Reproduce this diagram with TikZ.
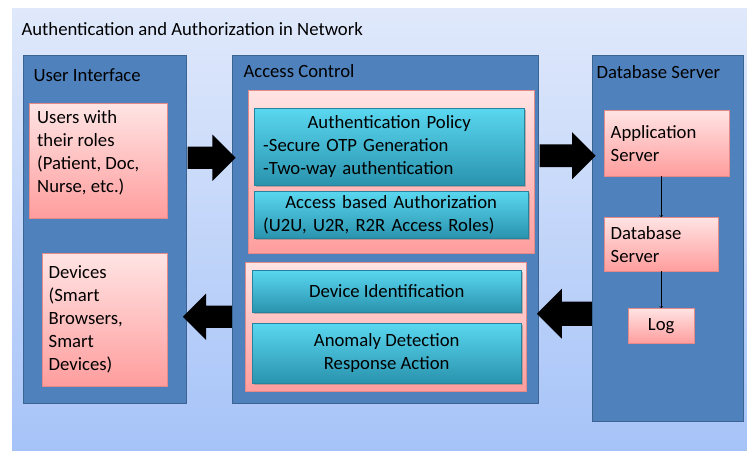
\documentclass[tikz,border=0pt]{standalone}
\usepackage{fontspec}
\setmainfont{Carlito}
\usetikzlibrary{shapes.arrows,shadows}

\definecolor{bgtop}{HTML}{E0E9FB}
\definecolor{bgbot}{HTML}{A6C3F8}
\definecolor{panelfill}{HTML}{4F81BD}
\definecolor{panelline}{HTML}{3B6393}
\definecolor{pinktop}{HTML}{FFE4E4}
\definecolor{pinkbot}{HTML}{FF9D9D}
\definecolor{pinkline}{HTML}{E58A86}
\definecolor{tealtop}{HTML}{5AD7F0}
\definecolor{tealmid}{HTML}{3CBDDD}
\definecolor{tealbot}{HTML}{2A93AE}
\definecolor{tealline}{HTML}{2683A0}

\tikzset{
	panel/.style={draw=panelline,line width=1.4pt,fill=panelfill,anchor=north west,inner sep=0},
	pinkbox/.style={draw=pinkline,top color=pinktop,bottom color=pinkbot,anchor=north west,inner sep=0,
		drop shadow={shadow xshift=1pt,shadow yshift=-1pt,opacity=0.35}},
	tealbox/.style={draw=tealline,top color=tealtop,middle color=tealmid,bottom color=tealbot,anchor=north west,inner sep=0,
		drop shadow={shadow xshift=1.5pt,shadow yshift=-1.5pt,opacity=0.5}},
	txt/.style={font=\fontsize{18.7}{23}\selectfont},
	bigarrow/.style={single arrow,fill=black,anchor=tail,inner xsep=0,inner ysep=11pt,text width=0pt,
		single arrow head extend=12pt,single arrow head indent=0pt},
}

\begin{document}
\begin{tikzpicture}[x=1pt,y=-1pt]
	\useasboundingbox (0,0) rectangle (747,450);
	\shade [top color=bgtop,bottom color=bgbot] (12,8) rectangle (747,450);
	\node [txt,anchor=west] (title) at (18,29) {Authentication and Authorization in Network};

	% three columns
	\node [panel,minimum width=163pt,minimum height=348pt] (ui) at (23,55) {};
	\node [panel,minimum width=306pt,minimum height=348pt] (ac) at (232,55) {};
	\node [panel,minimum width=151pt,minimum height=366pt] (dbs) at (592,55) {};
	\node [txt,anchor=west] (uititle) at (30,75) {User Interface};
	\node [txt,anchor=west] (actitle) at (240,71) {Access Control};
	\node [txt,anchor=west] (dbtitle) at (593,72) {Database Server};

	% user interface
	\node [pinkbox,minimum width=138pt,minimum height=115pt] (users) at (29,103) {};
	\node [txt,anchor=north west,align=left,inner sep=0] (userstext) at ([xshift=8pt,yshift=-7pt]users.north west)
		{Users with\\their roles\\(Patient, Doc,\\Nurse, etc.)};
	\node [pinkbox,txt,minimum width=125pt,minimum height=133pt,text width=112pt,align=left] (devices) at (42,253)
		{Devices\\(Smart\\Browsers,\\Smart\\Devices)};

	% access control
	\node [pinkbox,minimum width=286pt,minimum height=163pt] (authgroup) at (248,90) {};
	\node [pinkbox,minimum width=281pt,minimum height=129pt] (devgroup) at (245,262) {};
	\node [tealbox,txt,minimum width=270pt,minimum height=77pt,text width=252pt,align=left] (policy) at (254,108)
		{\makebox[\linewidth][c]{Authentication Policy}\\-Secure OTP Generation\\-Two-way authentication};
	\node [tealbox,txt,minimum width=274pt,minimum height=47pt,text width=256pt,align=left] (authz) at (254,191)
		{\makebox[\linewidth][c]{Access based Authorization}\\(U2U, U2R, R2R Access Roles)};
	\node [tealbox,txt,minimum width=269pt,minimum height=42pt,align=center] (devid) at (252,270) {Device Identification};
	\node [tealbox,txt,minimum width=269pt,minimum height=60pt,align=center] (anomaly) at (252,323)
		{Anomaly Detection\\Response Action};

	% database server
	\node [pinkbox,txt,minimum width=125pt,minimum height=66pt,text width=112pt,align=left] (app) at (604,110)
		{Application\\Server};
	\node [pinkbox,txt,minimum width=114pt,minimum height=54pt,text width=101pt,align=left] (db) at (604,217)
		{Database\\Server};
	\node [pinkbox,txt,minimum width=66pt,minimum height=35pt] (log) at (628,308) {Log};
	\draw [->] (app.south -| db.north) to (db.north);
	\draw [->] (db.south) to (log.north -| db.south);

	% flow between columns
	\node [bigarrow,minimum height=48pt,minimum width=44pt] (uitoac) at ([yshift=72pt]ui.east) {};
	\node [bigarrow,minimum height=56pt,minimum width=47pt] (actodb) at ([yshift=74pt]ac.east) {};
	\node [bigarrow,shape border rotate=180,minimum height=55pt,minimum width=50pt] (dbtoac) at ([yshift=-75pt]dbs.west) {};
	\node [bigarrow,shape border rotate=180,minimum height=49pt,minimum width=44pt] (actoui) at ([yshift=-87pt]ac.west) {};
\end{tikzpicture}
\end{document}
